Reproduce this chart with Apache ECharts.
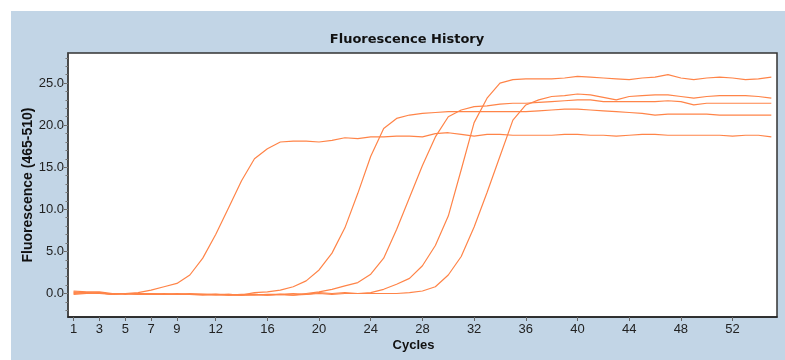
<!DOCTYPE html>
<html>
<head>
<meta charset="utf-8">
<script src="https://cdn.jsdelivr.net/npm/echarts@6.0.0/dist/echarts.min.js"></script>
<style>html,body{margin:0;padding:0;background:#fff;}#c{width:785px;height:360px;}</style>
</head>
<body>
<div id="c"></div>
<script>
// Cycle numbers 1..55
var cycles = [1,2,3,4,5,6,7,8,9,10,11,12,13,14,15,16,17,18,19,20,21,22,23,24,25,26,27,28,29,30,31,32,33,34,35,36,37,38,39,40,41,42,43,44,45,46,47,48,49,50,51,52,53,54,55];

var sampleA = [0.3,0.2,0.2,0.0,0.0,0.1,0.4,0.8,1.2,2.2,4.2,7.0,10.2,13.4,16.0,17.2,18.0,18.1,18.1,18.0,18.2,18.5,18.4,18.6,18.6,18.7,18.7,18.6,19.0,19.1,18.9,18.7,18.9,18.9,18.8,18.8,18.8,18.8,18.9,18.9,18.8,18.8,18.7,18.8,18.9,18.9,18.8,18.8,18.8,18.8,18.8,18.7,18.8,18.8,18.6];
var sampleB = [0.1,0.0,0.1,-0.1,0.0,-0.1,0.0,-0.1,-0.1,-0.1,-0.1,-0.2,-0.1,-0.2,0.1,0.2,0.4,0.8,1.5,2.8,4.8,7.8,11.9,16.3,19.6,20.8,21.2,21.4,21.5,21.6,21.6,21.6,21.6,21.6,21.6,21.6,21.7,21.8,21.9,21.9,21.8,21.7,21.6,21.5,21.4,21.2,21.3,21.3,21.3,21.3,21.2,21.2,21.2,21.2,21.2];
var sampleC = [0.0,0.1,0.0,-0.1,0.0,-0.1,-0.1,0.0,-0.1,-0.1,-0.1,-0.1,-0.2,-0.1,-0.1,-0.2,-0.1,-0.2,0.0,0.2,0.5,0.9,1.3,2.3,4.2,7.6,11.4,15.2,18.6,21.0,21.8,22.2,22.3,22.5,22.6,22.6,22.7,22.8,22.9,23.0,23.0,22.8,22.8,22.8,22.8,22.8,22.9,22.8,22.4,22.6,22.6,22.6,22.6,22.6,22.6];
var sampleD = [-0.1,0.0,0.1,-0.1,0.0,0.0,-0.1,-0.1,0.0,-0.1,-0.2,-0.1,-0.1,-0.2,-0.2,-0.1,-0.1,0.0,-0.1,0.1,0.0,0.1,0.0,0.1,0.5,1.1,1.8,3.3,5.7,9.2,14.7,20.3,23.2,25.0,25.4,25.5,25.5,25.5,25.6,25.8,25.7,25.6,25.5,25.4,25.6,25.7,26.0,25.6,25.4,25.6,25.7,25.6,25.4,25.5,25.7];
var sampleE = [0.2,0.1,0.0,0.0,-0.1,0.0,0.0,-0.1,-0.1,0.0,-0.1,-0.1,-0.2,-0.2,-0.1,-0.2,-0.1,-0.2,-0.1,0.0,-0.1,0.0,0.0,0.0,0.0,0.0,0.1,0.3,0.8,2.2,4.4,7.9,12.0,16.3,20.6,22.4,23.0,23.4,23.5,23.7,23.6,23.3,23.0,23.4,23.5,23.6,23.6,23.4,23.2,23.4,23.5,23.5,23.5,23.4,23.2];

var xTickLabels = [1,3,5,7,9,12,16,20,24,28,32,36,40,44,48,52];
var yTickLabels = [0,5,10,15,20,25];
var yMinorTicks = [-2,-1,0,1,2,3,4,5,6,7,8,9,10,11,12,13,14,15,16,17,18,19,20,21,22,23,24,25,26,27,28];

var lineColor = '#ff8448';
var narrow = "'Liberation Sans Narrow', 'Arial Narrow', 'Liberation Sans', sans-serif";

function pairs(vals){ return cycles.map(function(c,i){ return [c, vals[i]]; }); }

var seriesList = [sampleA, sampleB, sampleC, sampleD, sampleE].map(function(v){
  return {type:'line', data: pairs(v), showSymbol:false, symbol:'none', silent:true,
    lineStyle:{color:lineColor, width:1.2}, animation:false};
});

var chart = echarts.init(document.getElementById('c'), null, {renderer:'canvas'});
chart.setOption({
  animation:false,
  backgroundColor:'#ffffff',
  graphic:[{type:'rect', z:-10, shape:{x:11, y:11, width:774, height:349}, style:{fill:'#c2d5e6'}}],
  title:{text:'Fluorescence History', left:402, top:28, textAlign:'center',
    textStyle:{fontFamily:"'DejaVu Sans', sans-serif", fontWeight:'bold', fontSize:13, color:'#111'}},
  grid:{left:68, right:8, top:53, bottom:43, show:true, backgroundColor:'#ffffff', borderColor:'#333', borderWidth:1.5, containLabel:false, outerBoundsMode:'none'},
  xAxis:{type:'value', min:0.57, max:55.44,
    name:'Cycles', nameLocation:'middle', nameGap:22, nameMoveOverlap:false,
    nameTextStyle:{fontFamily:"'Liberation Sans', Arial, sans-serif", fontWeight:'bold', fontSize:13, color:'#111', padding:[0,18,0,0]},
    axisLine:{show:true, onZero:false, lineStyle:{color:'#222', width:1.5}},
    axisTick:{show:true, inside:false, length:4, customValues:xTickLabels, lineStyle:{color:'#666'}},
    axisLabel:{customValues:xTickLabels, margin:6, fontFamily:narrow, fontSize:13, color:'#222'},
    splitLine:{show:false}},
  yAxis:[{type:'value', min:-2.79, max:28.57, position:'left',
    name:'Fluorescence (465-510)', nameLocation:'middle', nameGap:33, nameRotate:90, nameMoveOverlap:false,
    nameTextStyle:{fontFamily:"'Liberation Sans', Arial, sans-serif", fontWeight:'bold', fontSize:14, color:'#111'},
    axisLine:{show:true, onZero:false, lineStyle:{color:'#444', width:1.5}},
    axisTick:{show:true, inside:false, length:4, customValues:yTickLabels, lineStyle:{color:'#666'}},
    axisLabel:{customValues:yTickLabels, margin:4, fontFamily:narrow, fontSize:13, color:'#222',
      formatter:function(v){return v.toFixed(1);}},
    splitLine:{show:false}},
   {type:'value', min:-2.79, max:28.57, position:'left',
    axisLine:{show:false}, axisLabel:{show:false}, splitLine:{show:false},
    axisTick:{show:true, inside:false, length:2.5, customValues:yMinorTicks, lineStyle:{color:'#777'}}}],
  series: seriesList
});
</script>
</body>
</html>
